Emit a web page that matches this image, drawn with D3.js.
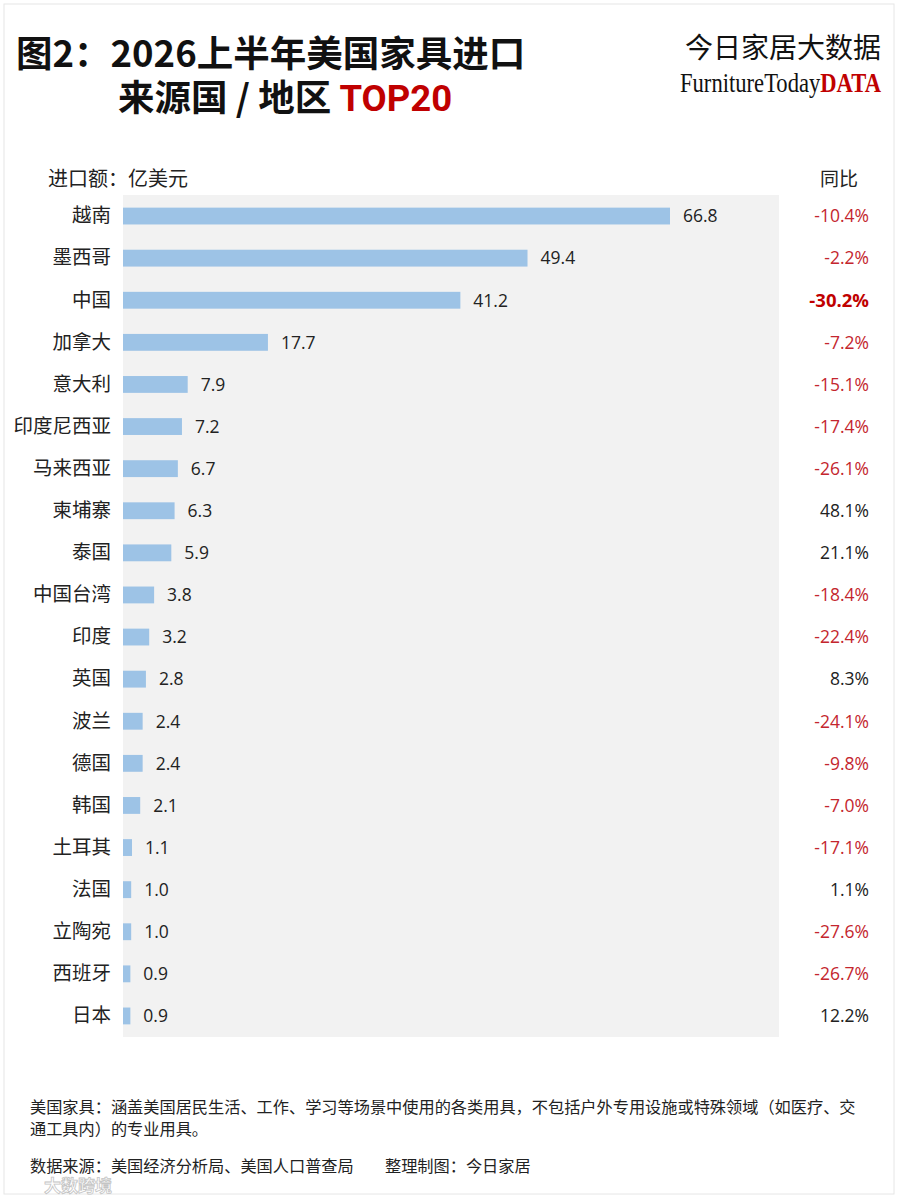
<!DOCTYPE html>
<html>
<head>
<meta charset="utf-8">
<script src="https://cdn.jsdelivr.net/npm/d3@7"></script>
<style>
  body { margin: 0; background: #fff; }
  svg { display: block; }
</style>
</head>
<body>
<svg id="chart" width="900" height="1200" font-family='"Noto Sans CJK SC", "Noto Sans", sans-serif'></svg>
<script>
// data
const countries = ["越南", "墨西哥", "中国", "加拿大", "意大利", "印度尼西亚", "马来西亚", "柬埔寨", "泰国", "中国台湾",
                   "印度", "英国", "波兰", "德国", "韩国", "土耳其", "法国", "立陶宛", "西班牙", "日本"];
const imports = [66.8, 49.4, 41.2, 17.7, 7.9, 7.2, 6.7, 6.3, 5.9, 3.8,
                 3.2, 2.8, 2.4, 2.4, 2.1, 1.1, 1.0, 1.0, 0.9, 0.9];
const yoy = [-10.4, -2.2, -30.2, -7.2, -15.1, -17.4, -26.1, 48.1, 21.1, -18.4,
             -22.4, 8.3, -24.1, -9.8, -7.0, -17.1, 1.1, -27.6, -26.7, 12.2];
const highlight = "中国";

const rows = countries.map((c, i) => ({ name: c, value: imports[i], yoy: yoy[i] }));

const svg = d3.select('#chart');
const numFont = '"Open Sans", "Noto Sans", sans-serif';

// faint frame
svg.append('rect')
   .attr('x', 4).attr('y', 4).attr('width', 890).attr('height', 1190)
   .attr('fill', 'none').attr('stroke', '#e6e6e6');

// title
const title = svg.append('g').attr('font-weight', 700).attr('font-size', 36.5).attr('fill', '#111');
title.append('text').attr('x', 16).attr('y', 67).text('图2：2026上半年美国家具进口');
const t2 = title.append('text').attr('x', 118).attr('y', 111);
t2.append('tspan').text('来源国 / 地区 ');
t2.append('tspan').attr('fill', '#c00000').attr('font-family', 'Roboto, "Noto Sans", sans-serif').text('TOP20');

// logo
svg.append('text')
   .attr('x', 881).attr('y', 58).attr('text-anchor', 'end')
   .attr('font-size', 28).attr('fill', '#111')
   .text('今日家居大数据');
const logo = svg.append('text')
   .attr('x', 680).attr('y', 92)
   .attr('font-family', '"Liberation Serif", "DejaVu Serif", serif')
   .attr('font-size', 27)
   .attr('textLength', 201).attr('lengthAdjust', 'spacingAndGlyphs');
logo.append('tspan').attr('fill', '#111').text('FurnitureToday');
logo.append('tspan').attr('fill', '#c00000').attr('font-weight', 700).text('DATA');

// plot area
const plotLeft = 123, plotRight = 779, plotTop = 195, plotBottom = 1037;

svg.append('rect')
   .attr('x', plotLeft).attr('y', plotTop)
   .attr('width', plotRight - plotLeft).attr('height', plotBottom - plotTop)
   .attr('fill', '#f2f2f2');

const x = d3.scaleLinear()
            .domain([0, d3.max(imports)])
            .range([plotLeft, 670]);

const y = d3.scaleBand()
            .domain(countries)
            .range([plotTop, plotBottom])
            .paddingInner(0.6)
            .paddingOuter(0.3);

// column headers
svg.append('text')
   .attr('x', 48).attr('y', 186)
   .attr('font-size', 20).attr('fill', '#222')
   .text('进口额：亿美元');
svg.append('text')
   .attr('x', 858).attr('y', 186).attr('text-anchor', 'end')
   .attr('font-size', 19).attr('fill', '#222')
   .text('同比');

// country labels
svg.append('g')
   .attr('transform', `translate(${plotLeft - 12},0)`)
   .call(d3.axisLeft(y).tickSize(0).tickPadding(0))
   .call(g => g.select('.domain').remove())
   .selectAll('text')
   .attr('font-family', '"Noto Sans CJK SC", sans-serif')
   .attr('font-size', 19.5).attr('fill', '#222');

// bars
svg.selectAll('rect.bar')
   .data(rows)
   .join('rect')
   .attr('class', 'bar')
   .attr('x', x(0))
   .attr('y', d => y(d.name))
   .attr('width', d => x(d.value) - x(0))
   .attr('height', y.bandwidth())
   .attr('fill', '#9dc3e6');

// value labels
svg.selectAll('text.val')
   .data(rows)
   .join('text')
   .attr('class', 'val')
   .attr('x', d => x(d.value) + 13)
   .attr('y', d => y(d.name) + y.bandwidth() / 2)
   .attr('dy', '0.36em')
   .attr('font-family', numFont)
   .attr('font-size', 17.5).attr('fill', '#222')
   .text(d => d.value.toFixed(1));

// year-on-year column
svg.selectAll('text.yoy')
   .data(rows)
   .join('text')
   .attr('class', 'yoy')
   .attr('x', 869)
   .attr('y', d => y(d.name) + y.bandwidth() / 2)
   .attr('dy', '0.36em')
   .attr('text-anchor', 'end')
   .attr('font-family', numFont)
   .attr('font-size', d => d.name === highlight ? 18.5 : 17.5)
   .attr('font-weight', d => d.name === highlight ? 700 : 400)
   .attr('fill', d => d.name === highlight ? '#c00000' : (d.yoy < 0 ? '#c4262e' : '#222'))
   .text(d => d.yoy.toFixed(1) + '%');

// footnotes
const note = svg.append('g').attr('font-size', 16.2).attr('fill', '#222');
note.append('text').attr('x', 30).attr('y', 1113)
    .text('美国家具：涵盖美国居民生活、工作、学习等场景中使用的各类用具，不包括户外专用设施或特殊领域（如医疗、交');
note.append('text').attr('x', 30).attr('y', 1135)
    .text('通工具内）的专业用具。');
note.append('text').attr('x', 30).attr('y', 1172)
    .text('数据来源：美国经济分析局、美国人口普查局');
note.append('text').attr('x', 385).attr('y', 1172)
    .text('整理制图：今日家居');

// watermark
svg.append('text')
   .attr('x', 44).attr('y', 1192)
   .attr('font-size', 17).attr('font-weight', 700)
   .attr('fill', '#ffffff').attr('fill-opacity', 0.6)
   .attr('stroke', '#c4c4c4').attr('stroke-width', 0.8)
   .text('大数跨境');
</script>
</body>
</html>
